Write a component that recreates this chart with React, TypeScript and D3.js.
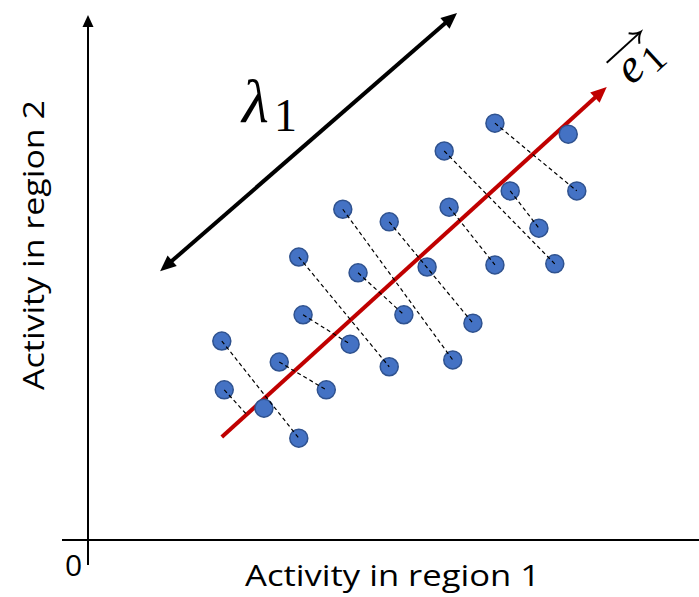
import * as d3 from 'd3';

// activity values (arbitrary units, 0-100 on both axes)
const region1 = [21.9, 22.3, 28.8, 34.5, 31.3, 39.0, 34.5, 35.2, 42.9, 41.7, 44.2, 49.3, 49.3, 51.7, 59.7, 55.5, 63.0, 58.3, 59.1, 66.6, 66.6, 69.1, 73.8, 76.4, 78.6, 80.0];
const region2 = [37.9, 28.6, 25.1, 19.4, 33.9, 28.6, 53.9, 42.9, 37.3, 63.0, 50.9, 33.0, 60.6, 42.9, 34.3, 52.0, 41.3, 74.1, 63.4, 79.4, 52.4, 66.5, 59.4, 52.6, 77.3, 66.5];

// dashed projection links (index pairs); -1 means "to the red axis"
const linkFrom = [0, 4, 7, 6, 10, 9, 12, 18, 17, 21, 19, 1];
const linkTo = [3, 5, 8, 11, 13, 14, 16, 20, 23, 22, 25, -1];

// first principal component (start, tip)
const pcX = [21.9, 84.9];
const pcY = [19.6, 86.3];

// lambda double arrow (two tips)
const lamX = [11.8, 60.4];
const lamY = [51.2, 100.4];

const xTicks = ['0'];

const W = 699;
const H = 597;

const xs = d3.scaleLinear().domain([0, 100]).range([88, 699]);
const ys = d3.scaleLinear().domain([0, 100]).range([540, 15]);

function head(tx: number, ty: number, fx: number, fy: number, len: number, wid: number) {
  const a = Math.atan2(ty - fy, tx - fx);
  const bx = tx - len * Math.cos(a);
  const by = ty - len * Math.sin(a);
  const nx = -Math.sin(a) * wid / 2;
  const ny = Math.cos(a) * wid / 2;
  return `${tx},${ty} ${bx + nx},${by + ny} ${bx - nx},${by - ny}`;
}

function backOff(tx: number, ty: number, fx: number, fy: number, d: number) {
  const a = Math.atan2(ty - fy, tx - fx);
  return [tx - d * Math.cos(a), ty - d * Math.sin(a)];
}

export default function App() {
  const px = region1.map(v => xs(v));
  const py = region2.map(v => ys(v));

  const p0 = [xs(pcX[0]), ys(pcY[0])];
  const p1 = [xs(pcX[1]), ys(pcY[1])];
  const ux = (p1[0] - p0[0]) / Math.hypot(p1[0] - p0[0], p1[1] - p0[1]);
  const uy = (p1[1] - p0[1]) / Math.hypot(p1[0] - p0[0], p1[1] - p0[1]);
  const angle = (Math.atan2(uy, ux) * 180) / Math.PI;

  const links = linkFrom.map((a, i) => {
    const b = linkTo[i];
    if (b >= 0) return [px[a], py[a], px[b], py[b]];
    const t = (px[a] - p0[0]) * ux + (py[a] - p0[1]) * uy;
    return [px[a], py[a], p0[0] + t * ux, p0[1] + t * uy];
  });

  const l0 = [xs(lamX[0]), ys(lamY[0])];
  const l1 = [xs(lamX[1]), ys(lamY[1])];
  const lA = backOff(l0[0], l0[1], l1[0], l1[1], 12);
  const lB = backOff(l1[0], l1[1], l0[0], l0[1], 12);
  const pEnd = backOff(p1[0], p1[1], p0[0], p0[1], 12);

  const yTop = ys(100);
  const origin = [xs(0), ys(0)];

  const sans = '"Open Sans", "Noto Sans", sans-serif';
  const serif = '"Liberation Serif", "DejaVu Serif", serif';

  // label anchors in data units
  const eAnchor = [xs(89.0), ys(86.5)];
  const lamAnchor = [xs(25.2), ys(79.6)];

  return (
    <svg width={W} height={H} style={{ position: 'absolute', left: 0, top: 0, background: '#fff' }}>
      {/* axes */}
      <line x1={62} x2={W} y1={origin[1]} y2={origin[1]} stroke="#000" strokeWidth={2} />
      <line x1={origin[0]} x2={origin[0]} y1={565} y2={yTop + 10} stroke="#000" strokeWidth={2} />
      <polygon points={head(origin[0], yTop, origin[0], origin[1], 12, 11)} fill="#000" />
      {xTicks.map(t => (
        <text key={t} x={65} y={576} fontFamily={sans} fontSize={30} fill="#000">{t}</text>
      ))}
      <text x={(245 + 540) / 2} y={586} textAnchor="middle" fontFamily={sans} fontSize={30}
        textLength={295} lengthAdjust="spacingAndGlyphs" fill="#000">Activity in region 1</text>
      <text transform={`translate(44,245) rotate(-90)`} textAnchor="middle" fontFamily={sans} fontSize={30}
        textLength={290} lengthAdjust="spacingAndGlyphs" fill="#000">Activity in region 2</text>

      {/* lambda double arrow */}
      <line x1={lA[0]} y1={lA[1]} x2={lB[0]} y2={lB[1]} stroke="#000" strokeWidth={4} />
      <polygon points={head(l0[0], l0[1], l1[0], l1[1], 16, 14)} fill="#000" />
      <polygon points={head(l1[0], l1[1], l0[0], l0[1], 16, 14)} fill="#000" />
      <text x={lamAnchor[0]} y={lamAnchor[1]} fontFamily={serif} fontStyle="italic" fontSize={62} fill="#000">λ</text>
      <text x={lamAnchor[0] + 32} y={lamAnchor[1] + 9} fontFamily={serif} fontSize={46} fill="#000">1</text>

      {/* principal axis */}
      <line x1={p0[0]} y1={p0[1]} x2={pEnd[0]} y2={pEnd[1]} stroke="#C00000" strokeWidth={4} />
      <polygon points={head(p1[0], p1[1], p0[0], p0[1], 16, 14)} fill="#C00000" />

      {/* points */}
      {px.map((x, i) => (
        <circle key={i} cx={x} cy={py[i]} r={9} fill="#4472C4" stroke="#2F528F" strokeWidth={1.5} />
      ))}

      {/* dashed projections */}
      {links.map((d, i) => (
        <line key={i} x1={d[0]} y1={d[1]} x2={d[2]} y2={d[3]} stroke="#000" strokeWidth={1.2} strokeDasharray="4,3" />
      ))}

      {/* e1 label */}
      <g transform={`translate(${eAnchor[0]},${eAnchor[1]}) rotate(${angle})`}>
        <text x={0} y={0} fontFamily={serif} fontStyle="italic" fontSize={48} fill="#000">e</text>
        <text x={25} y={7} fontFamily={serif} fontSize={38} fill="#000">1</text>
        <line x1={-3} y1={-34} x2={41} y2={-34} stroke="#000" strokeWidth={2} />
        <path d="M33,-41 Q38,-35 43,-34 Q38,-32 34,-26" fill="none" stroke="#000" strokeWidth={2} />
      </g>
    </svg>
  );
}
